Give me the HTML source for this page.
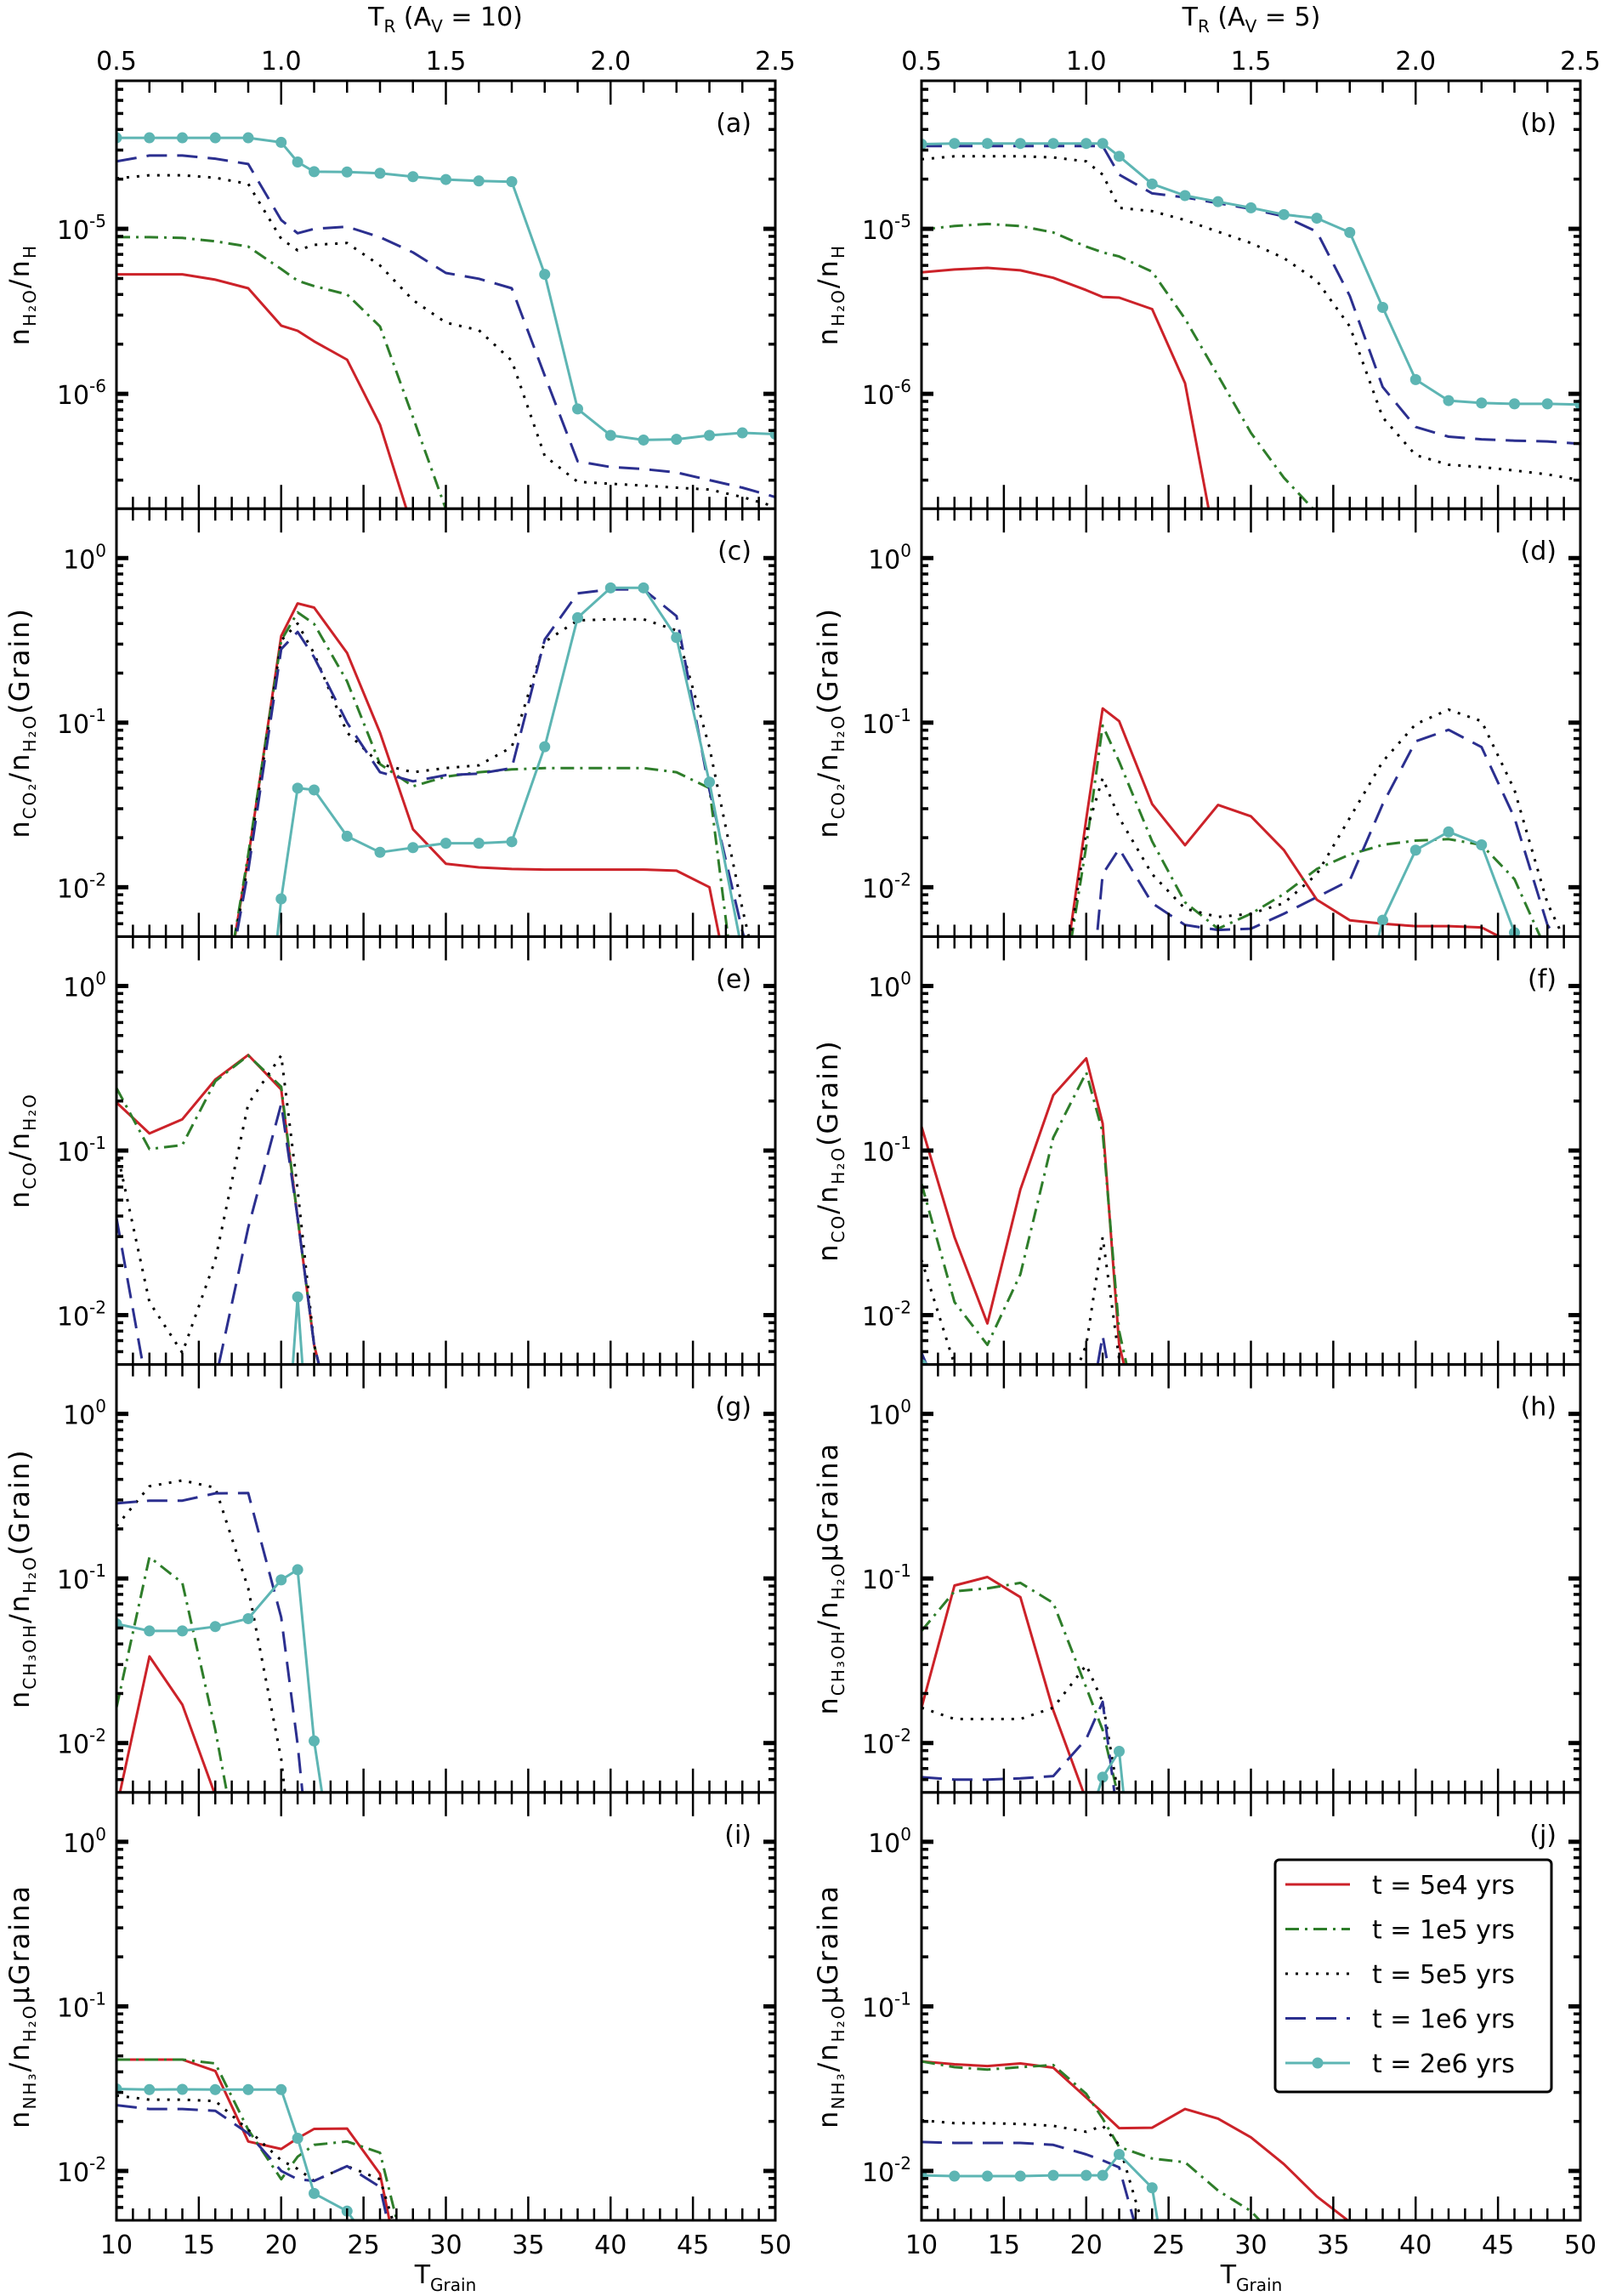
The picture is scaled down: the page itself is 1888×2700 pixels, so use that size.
<!DOCTYPE html>
<html><head><meta charset="utf-8"><style>
html,body{margin:0;padding:0;background:#fff;}
svg{display:block;font-family:"DejaVu Sans","Liberation Sans",sans-serif;}
</style></head><body>
<svg id="fig" width="1888" height="2700" viewBox="0 0 1888 2700" xmlns="http://www.w3.org/2000/svg">
<rect width="1888" height="2700" fill="#fff"/>
<text x="524" y="30" font-size="30" text-anchor="middle">T<tspan font-size="20" dy="8">R</tspan><tspan dy="-8">  (A</tspan><tspan font-size="20" dy="8">V</tspan><tspan dy="-8"> = 10)</tspan></text>
<text x="1472" y="30" font-size="30" text-anchor="middle">T<tspan font-size="20" dy="8">R</tspan><tspan dy="-8">  (A</tspan><tspan font-size="20" dy="8">V</tspan><tspan dy="-8"> = 5)</tspan></text>
<text x="524" y="2685" font-size="30" text-anchor="middle">T<tspan font-size="20" dy="9">Grain</tspan></text>
<text x="1472" y="2685" font-size="30" text-anchor="middle">T<tspan font-size="20" dy="9">Grain</tspan></text>
</svg>
<script>
const T = [10,12,14,16,18,20,21,22,24,26,28,30,32,34,36,38,40,42,44,46,48,50];
const N = null;
// panel a
const aRed   = [5.3e-6,5.3e-6,5.3e-6,4.92e-6,4.36e-6,2.59e-6,2.41e-6,2.08e-6,1.61e-6,6.5e-7,1.5e-7,N,N,N,N,N,N,N,N,N,N,N];
const aGreen = [8.9e-6,8.9e-6,8.8e-6,8.4e-6,7.8e-6,5.7e-6,4.85e-6,4.5e-6,4.0e-6,2.56e-6,7.2e-7,2.0e-7,1e-7,N,N,N,N,N,N,N,N,N];
const aBlack = [2.02e-5,2.11e-5,2.11e-5,2.04e-5,1.87e-5,8.7e-6,7.4e-6,8.0e-6,8.2e-6,6.0e-6,3.7e-6,2.7e-6,2.43e-6,1.59e-6,4.2e-7,2.93e-7,2.85e-7,2.78e-7,2.7e-7,2.63e-7,2.37e-7,2.07e-7];
const aBlue  = [2.56e-5,2.78e-5,2.78e-5,2.66e-5,2.47e-5,1.13e-5,9.4e-6,1.0e-5,1.03e-5,8.9e-6,7.2e-6,5.4e-6,4.98e-6,4.36e-6,1.29e-6,3.9e-7,3.6e-7,3.5e-7,3.34e-7,3.0e-7,2.7e-7,2.37e-7];
const aCyan  = [3.56e-5,3.56e-5,3.56e-5,3.56e-5,3.56e-5,3.34e-5,2.54e-5,2.22e-5,2.21e-5,2.17e-5,2.07e-5,1.99e-5,1.95e-5,1.93e-5,5.3e-6,8.1e-7,5.6e-7,5.25e-7,5.3e-7,5.6e-7,5.8e-7,5.7e-7];
// panel b
const bRed   = [5.45e-6,5.67e-6,5.8e-6,5.6e-6,5.05e-6,4.25e-6,3.86e-6,3.83e-6,3.26e-6,1.16e-6,1e-7,N,N,N,N,N,N,N,N,N,N,N];
const bGreen = [9.9e-6,1.04e-5,1.07e-5,1.04e-5,9.5e-6,7.8e-6,7.2e-6,6.8e-6,5.5e-6,2.85e-6,1.29e-6,5.8e-7,3.1e-7,1.9e-7,1e-7,N,N,N,N,N,N,N];
const bBlack = [2.64e-5,2.75e-5,2.75e-5,2.75e-5,2.71e-5,2.56e-5,2.13e-5,1.34e-5,1.28e-5,1.13e-5,9.6e-6,8.2e-6,6.65e-6,4.85e-6,2.56e-6,7.2e-7,4.25e-7,3.72e-7,3.6e-7,3.43e-7,3.25e-7,3.0e-7];
const bBlue  = [3.17e-5,3.17e-5,3.17e-5,3.17e-5,3.17e-5,3.17e-5,3.17e-5,2.13e-5,1.64e-5,1.55e-5,1.43e-5,1.32e-5,1.19e-5,9.6e-6,3.92e-6,1.10e-6,6.3e-7,5.5e-7,5.3e-7,5.2e-7,5.15e-7,4.98e-7];
const bCyan  = [3.26e-5,3.29e-5,3.29e-5,3.29e-5,3.29e-5,3.29e-5,3.29e-5,2.75e-5,1.87e-5,1.59e-5,1.46e-5,1.34e-5,1.22e-5,1.16e-5,9.5e-6,3.34e-6,1.22e-6,9.1e-7,8.8e-7,8.7e-7,8.7e-7,8.6e-7];
// panel c
const cRed   = [N,N,N,0.001,0.0151,0.336,0.53,0.50,0.265,0.087,0.0225,0.0139,0.0132,0.0129,0.0128,0.0128,0.0128,0.0128,0.0126,0.01,0.001,N];
const cGreen = [N,N,N,0.001,0.0158,0.316,0.468,0.398,0.178,0.056,0.041,0.047,0.050,0.052,0.053,0.053,0.053,0.053,0.050,0.040,0.001,N];
const cBlack = [N,N,N,0.001,0.014,0.316,0.40,0.263,0.087,0.056,0.050,0.053,0.055,0.071,0.31,0.418,0.425,0.425,0.363,0.071,0.0074,0.001];
const cBlue  = [N,N,N,0.001,0.0126,0.28,0.356,0.25,0.1,0.05,0.044,0.048,0.049,0.053,0.32,0.61,0.645,0.645,0.444,0.039,0.0054,0.001];
const cCyan  = [N,N,N,N,0.0001,0.0085,0.040,0.039,0.0204,0.0163,0.0174,0.0185,0.0185,0.0189,0.0714,0.434,0.659,0.659,0.329,0.0435,0.004,N];
// panel d
const dRed   = [N,N,N,N,0.001,0.026,0.122,0.102,0.032,0.018,0.0316,0.027,0.0168,0.0084,0.0063,0.006,0.0058,0.0058,0.0057,0.0045,N,N];
const dGreen = [N,N,N,N,0.001,0.0178,0.096,0.058,0.019,0.0081,0.0056,0.0069,0.0091,0.0129,0.0158,0.0181,0.0192,0.0196,0.0181,0.0112,0.004,N];
const dBlack = [N,N,N,N,0.001,0.0217,0.046,0.0264,0.012,0.0074,0.0066,0.0069,0.008,0.012,0.0264,0.058,0.098,0.12,0.102,0.039,0.008,0.003];
const dBlue  = [N,N,N,N,N,0.001,0.012,0.0171,0.008,0.0059,0.0055,0.0056,0.0069,0.0087,0.011,0.032,0.077,0.0905,0.071,0.0264,0.0059,0.003];
const dCyan  = [N,N,N,N,N,N,N,N,N,N,N,N,N,N,0.001,0.0063,0.0168,0.0217,0.0181,0.0053,0.001,N];
// panel e
const eRed   = [0.196,0.127,0.155,0.27,0.381,0.235,0.039,0.0066,0.001,N,N,N,N,N,N,N,N,N,N,N,N,N];
const eGreen = [0.24,0.102,0.108,0.264,0.378,0.244,0.039,0.0066,0.001,N,N,N,N,N,N,N,N,N,N,N,N,N];
const eBlack = [0.102,0.012,0.0059,0.0217,0.192,0.378,0.058,0.0066,0.001,N,N,N,N,N,N,N,N,N,N,N,N,N];
const eBlue  = [0.039,0.003,0.003,0.004,0.034,0.192,0.039,0.0066,0.001,N,N,N,N,N,N,N,N,N,N,N,N,N];
const eCyan  = [N,N,N,N,N,0.0005,0.0129,0.0005,N,N,N,N,N,N,N,N,N,N,N,N,N,N];
// panel f
const fRed   = [0.14,0.0298,0.0089,0.058,0.217,0.363,0.146,0.0066,0.001,N,N,N,N,N,N,N,N,N,N,N,N,N];
const fGreen = [0.063,0.012,0.0066,0.0177,0.12,0.298,0.129,0.008,0.001,N,N,N,N,N,N,N,N,N,N,N,N,N];
const fBlack = [0.0217,0.005,0.002,0.001,0.002,0.0066,0.0298,0.0054,0.001,N,N,N,N,N,N,N,N,N,N,N,N,N];
const fBlue  = [0.0059,0.002,0.001,0.001,0.001,0.002,0.0075,0.002,N,N,N,N,N,N,N,N,N,N,N,N,N,N];
const fCyan  = [0.005,0.001,N,N,N,N,N,N,N,N,N,N,N,N,N,N,N,N,N,N,N,N];
// panel g
const gRed   = [0.004,0.0336,0.0171,0.0048,0.001,N,N,N,N,N,N,N,N,N,N,N,N,N,N,N,N,N];
const gGreen = [0.0164,0.135,0.094,0.012,0.001,N,N,N,N,N,N,N,N,N,N,N,N,N,N,N,N,N];
const gBlack = [0.208,0.363,0.394,0.356,0.087,0.008,0.001,N,N,N,N,N,N,N,N,N,N,N,N,N,N,N];
const gBlue  = [0.286,0.297,0.297,0.329,0.33,0.058,0.0098,0.001,N,N,N,N,N,N,N,N,N,N,N,N,N,N];
const gCyan  = [0.053,0.048,0.048,0.051,0.057,0.098,0.113,0.0103,0.0005,N,N,N,N,N,N,N,N,N,N,N,N,N];
// panel h
const hRed   = [0.0164,0.0906,0.102,0.077,0.0158,0.0045,0.001,N,N,N,N,N,N,N,N,N,N,N,N,N,N,N];
const hGreen = [0.048,0.0836,0.087,0.094,0.071,0.0217,0.012,0.0045,0.001,N,N,N,N,N,N,N,N,N,N,N,N,N];
const hBlack = [0.0164,0.014,0.014,0.014,0.0164,0.0298,0.0178,0.0045,0.001,N,N,N,N,N,N,N,N,N,N,N,N,N];
const hBlue  = [0.0062,0.006,0.006,0.0061,0.0063,0.0106,0.0178,0.003,N,N,N,N,N,N,N,N,N,N,N,N,N,N];
const hCyan  = [N,N,N,N,N,0.003,0.0062,0.0089,0.0001,N,N,N,N,N,N,N,N,N,N,N,N,N];
// panel i
const iRed   = [0.0475,0.0475,0.0475,0.0405,0.0151,0.0136,0.0158,0.018,0.0181,0.0096,0.001,N,N,N,N,N,N,N,N,N,N,N];
const iGreen = [0.0475,0.0475,0.0475,0.045,0.0178,0.0089,0.0122,0.0144,0.0151,0.0129,0.002,N,N,N,N,N,N,N,N,N,N,N];
const iBlack = [0.0287,0.0271,0.0271,0.0266,0.0178,0.0116,0.0103,0.0087,0.0107,0.0089,0.002,N,N,N,N,N,N,N,N,N,N,N];
const iBlue  = [0.0251,0.0238,0.0238,0.0232,0.0169,0.01,0.0089,0.0087,0.0107,0.008,0.001,N,N,N,N,N,N,N,N,N,N,N];
const iCyan  = [0.0315,0.0312,0.0313,0.0312,0.0312,0.0312,0.0158,0.0073,0.0057,0.003,N,N,N,N,N,N,N,N,N,N,N,N];
// panel j
const jRed   = [0.0463,0.0445,0.0434,0.045,0.0424,0.0279,0.0226,0.0182,0.0183,0.0238,0.0208,0.016,0.011,0.007,0.0049,0.0025,N,N,N,N,N,N];
const jGreen = [0.0463,0.0427,0.0413,0.0427,0.044,0.0294,0.0208,0.014,0.0119,0.0113,0.0076,0.0057,0.0035,N,N,N,N,N,N,N,N,N];
const jBlack = [0.0203,0.0195,0.0195,0.0193,0.0188,0.0173,0.0188,0.0144,0.003,N,N,N,N,N,N,N,N,N,N,N,N,N];
const jBlue  = [0.015,0.0148,0.0148,0.0148,0.0144,0.0126,0.0116,0.0105,0.002,N,N,N,N,N,N,N,N,N,N,N,N,N];
const jCyan  = [0.0094,0.0093,0.0093,0.0093,0.0094,0.0094,0.0094,0.0126,0.0079,0.0005,N,N,N,N,N,N,N,N,N,N,N,N];
const legendLabels = ["t = 5e4 yrs","t = 1e5 yrs","t = 5e5 yrs","t = 1e6 yrs","t = 2e6 yrs"];
const xTickLabels = ["10","15","20","25","30","35","40","45","50"];
const trTickLabels = ["0.5","1.0","1.5","2.0","2.5"];

const NS="http://www.w3.org/2000/svg";
const svg=document.getElementById('fig');
function mk(tag,attrs,parent){const e=document.createElementNS(NS,tag);for(const k in attrs)e.setAttribute(k,attrs[k]);(parent||svg).appendChild(e);return e;}

const styles=[
 {key:'red',color:'#cc2229',dash:'',w:3},
 {key:'green',color:'#2e7d2a',dash:'16,7,3,7',w:3},
 {key:'black',color:'#000',dash:'3,9',w:3},
 {key:'blue',color:'#2b2f8f',dash:'24,12',w:3},
 {key:'cyan',color:'#5db5b3',dash:'',w:3,marker:true}
];
const X0L=137,X1L=912,X0R=1084,X1R=1859,TOP=95,PH=503.2;
const panels=[
 {id:'a',col:0,row:0,lo:-6.696,hi:-4.103,ticks:[-6,-5],data:[aRed,aGreen,aBlack,aBlue,aCyan],ylab:['n','H₂O','/n','H','']},
 {id:'b',col:1,row:0,lo:-6.696,hi:-4.103,ticks:[-6,-5],data:[bRed,bGreen,bBlack,bBlue,bCyan],ylab:['n','H₂O','/n','H','']},
 {id:'c',col:0,row:1,lo:-2.30,hi:0.30,ticks:[-2,-1,0],data:[cRed,cGreen,cBlack,cBlue,cCyan],ylab:['n','CO₂','/n','H₂O','(Grain)']},
 {id:'d',col:1,row:1,lo:-2.30,hi:0.30,ticks:[-2,-1,0],data:[dRed,dGreen,dBlack,dBlue,dCyan],ylab:['n','CO₂','/n','H₂O','(Grain)']},
 {id:'e',col:0,row:2,lo:-2.30,hi:0.30,ticks:[-2,-1,0],data:[eRed,eGreen,eBlack,eBlue,eCyan],ylab:['n','CO','/n','H₂O','']},
 {id:'f',col:1,row:2,lo:-2.30,hi:0.30,ticks:[-2,-1,0],data:[fRed,fGreen,fBlack,fBlue,fCyan],ylab:['n','CO','/n','H₂O','(Grain)']},
 {id:'g',col:0,row:3,lo:-2.30,hi:0.30,ticks:[-2,-1,0],data:[gRed,gGreen,gBlack,gBlue,gCyan],ylab:['n','CH₃OH','/n','H₂O','(Grain)']},
 {id:'h',col:1,row:3,lo:-2.30,hi:0.30,ticks:[-2,-1,0],data:[hRed,hGreen,hBlack,hBlue,hCyan],ylab:['n','CH₃OH','/n','H₂O','μGraina']},
 {id:'i',col:0,row:4,lo:-2.30,hi:0.30,ticks:[-2,-1,0],data:[iRed,iGreen,iBlack,iBlue,iCyan],ylab:['n','NH₃','/n','H₂O','μGraina']},
 {id:'j',col:1,row:4,lo:-2.30,hi:0.30,ticks:[-2,-1,0],data:[jRed,jGreen,jBlack,jBlue,jCyan],ylab:['n','NH₃','/n','H₂O','μGraina']}
];
const defs=mk('defs',{});
panels.forEach(p=>{
  const x0=p.col?X0R:X0L,x1=p.col?X1R:X1L;
  const y0=TOP+p.row*PH,y1=y0+PH;
  const xs=t=>x0+(t-10)/40*(x1-x0);
  const ys=v=>y1-(Math.log10(v)-p.lo)/(p.hi-p.lo)*(y1-y0);
  const g=mk('g',{});
  
  
  const cp=mk('clipPath',{id:'clip'+p.id},defs);
  mk('rect',{x:x0,y:y0,width:x1-x0,height:y1-y0},cp);
  const sg=mk('g',{'clip-path':'url(#clip'+p.id+')'},g);
  p.data.forEach((arr,si)=>{
    const st=styles[si];
    let d='',pen=false;
    arr.forEach((v,k)=>{
      if(v===null){pen=false;return;}
      d+=(pen?'L':'M')+xs(T[k]).toFixed(1)+','+ys(v).toFixed(1);pen=true;
    });
    const path=mk('path',{d:d,fill:'none',stroke:st.color,'stroke-width':st.w,'stroke-linejoin':'round'},sg);
    if(st.dash)path.setAttribute('stroke-dasharray',st.dash);
    
    
    if(st.marker){
      arr.forEach((v,k)=>{
        if(v===null)return;
        const c=mk('circle',{cx:xs(T[k]),cy:ys(v),r:6.5,fill:st.color},sg);
        
        
      });
    }
  });
  // frame
  mk('rect',{x:x0,y:y0,width:x1-x0,height:y1-y0,fill:'none',stroke:'#000','stroke-width':3},g);
  // x ticks
  for(let t=10;t<=50;t++){
    const X=xs(t),L=(t%5===0)?28:14;
    mk('line',{x1:X,y1:y1,x2:X,y2:y1-L,stroke:'#000','stroke-width':2.5},g);
    if(p.row>0) mk('line',{x1:X,y1:y0,x2:X,y2:y0+L,stroke:'#000','stroke-width':2.5},g);
  }
  if(p.row===0){
    for(let i=0;i<=20;i++){
      const X=x0+i/20*(x1-x0),L=(i%5===0)?28:14;
      mk('line',{x1:X,y1:y0,x2:X,y2:y0+L,stroke:'#000','stroke-width':2.5},g);
    }
    trTickLabels.forEach((lab,i)=>{
      const tx=mk('text',{x:x0+i/4*(x1-x0),y:82,'font-size':30,'text-anchor':'middle'},g);
      tx.textContent=lab;
      
      
    });
  }
  if(p.row===4){
    xTickLabels.forEach((lab,i)=>{
      const tx=mk('text',{x:xs(10+i*5),y:2650,'font-size':30,'text-anchor':'middle'},g);
      tx.textContent=lab;
      
      
    });
  }
  // y ticks
  for(let dec=Math.floor(p.lo);dec<=Math.ceil(p.hi);dec++){
    for(let m=1;m<=9;m++){
      const e=dec+Math.log10(m);
      if(e<p.lo||e>p.hi)continue;
      const Y=ys(Math.pow(10,e)),L=m===1?14:8,W=m===1?5:3.5;
      mk('line',{x1:x0,y1:Y,x2:x0+L,y2:Y,stroke:'#000','stroke-width':W},g);
      mk('line',{x1:x1,y1:Y,x2:x1-L,y2:Y,stroke:'#000','stroke-width':W},g);
    }
  }
  p.ticks.forEach(e=>{
    const Y=ys(Math.pow(10,e));
    const tx=mk('text',{x:x0-12,y:Y+12,'font-size':30,'text-anchor':'end'},g);
    
    
    const a=mk('tspan',{},tx);a.textContent='10';
    const b=mk('tspan',{'font-size':20,dy:-14},tx);b.textContent=String(e);
  });
  // panel label
  const pl=mk('text',{x:x1-28,y:y0+60,'font-size':30,'text-anchor':'end'},g);
  pl.textContent='('+p.id+')';
  
  
  // y label
  const lx=p.col?975:24,ly=(y0+y1)/2;
  const yl=mk('text',{x:0,y:0,'font-size':32,'text-anchor':'middle','letter-spacing':'2',transform:'translate('+(lx+10)+','+ly+') rotate(-90)'},g);
  
  
  const L=p.ylab;
  const s1=mk('tspan',{},yl);s1.textContent=L[0];
  const s2=mk('tspan',{'font-size':20,dy:8},yl);s2.textContent=L[1];
  const s3=mk('tspan',{dy:-8},yl);s3.textContent=L[2];
  const s4=mk('tspan',{'font-size':20,dy:8},yl);s4.textContent=L[3];
  if(L[4]){const s5=mk('tspan',{dy:-8},yl);s5.textContent=L[4];}
});
// legend
const lg=mk('g',{});


mk('rect',{x:1500,y:2187,width:325,height:273,rx:5,fill:'#fff',stroke:'#000','stroke-width':3},lg);
legendLabels.forEach((lab,i)=>{
  const st=styles[i],Y=2216+i*52.5;
  const ln=mk('line',{x1:1512,y1:Y,x2:1588,y2:Y,stroke:st.color,'stroke-width':3},lg);
  if(st.dash)ln.setAttribute('stroke-dasharray',st.dash);
  if(st.marker)mk('circle',{cx:1550,cy:Y,r:6.5,fill:st.color},lg);
  const tx=mk('text',{x:1614,y:Y+11,'font-size':30},lg);
  tx.textContent=lab;
  
  
});
</script>
</body></html>
